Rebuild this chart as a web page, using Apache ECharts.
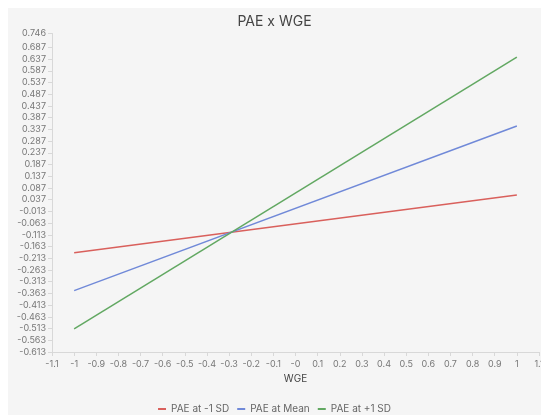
<!DOCTYPE html>
<html>
<head>
<meta charset="utf-8">
<script src="https://cdn.jsdelivr.net/npm/echarts@6/dist/echarts.min.js"></script>
<style>
  html, body { margin: 0; padding: 0; background: #fff; }
  #chart { position: absolute; left: 8px; top: 8px; width: 533px; height: 407px; background: #f5f5f5; }
</style>
</head>
<body>
<div id="chart"></div>
<script>
// 数据
var xValues = [-1, 1];
var seriesNames = ['PAE at -1 SD', 'PAE at Mean', 'PAE at +1 SD'];
var lowSD = [-0.19, 0.057];
var meanSD = [-0.351, 0.351];
var highSD = [-0.514, 0.645];

// 刻度
var xTicks = [-1.1, -1, -0.9, -0.8, -0.7, -0.6, -0.5, -0.4, -0.3, -0.2, -0.1, 0, 0.1, 0.2, 0.3, 0.4, 0.5, 0.6, 0.7, 0.8, 0.9, 1, 1.1];
var xTickLabels = ['-1.1', '-1', '-0.9', '-0.8', '-0.7', '-0.6', '-0.5', '-0.4', '-0.3', '-0.2', '-0.1', '-0', '0.1', '0.2', '0.3', '0.4', '0.5', '0.6', '0.7', '0.8', '0.9', '1', '1.1'];
var yTicks = [-0.613, -0.563, -0.513, -0.463, -0.413, -0.363, -0.313, -0.263, -0.213, -0.163, -0.113, -0.063, -0.013,
  0.037, 0.087, 0.137, 0.187, 0.237, 0.287, 0.337, 0.387, 0.437, 0.487, 0.537, 0.587, 0.637, 0.687, 0.746];

function pairs (vals) {
  return xValues.map(function (x, i) { return [x, vals[i]]; });
}

function getEchartsLine () {
  var myChart = echarts.init(document.getElementById('chart'));
  var labelColor = '#777';
  var axisColor = '#d8d8d8';

  const option = {
    animation: false,
    color: ['#d9605c', '#7089d8', '#62a862'],
    title: {
      text: 'PAE x WGE',
      left: 'center',
      top: 2,
      textStyle: { color: '#444', fontSize: 14, fontWeight: 'normal', fontFamily: 'Inter' }
    },
    legend: {
      bottom: 0,
      left: 'center',
      padding: [5, 5, 1, 5],
      itemWidth: 8,
      itemHeight: 2,
      itemGap: 8,
      icon: 'rect',
      textStyle: { color: '#666', fontSize: 10, fontFamily: 'Inter' },
      data: seriesNames
    },
    grid: {
      left: 44,
      right: 2,
      top: 25.5,
      bottom: 63,
      containLabel: false,
      outerBoundsMode: 'none'
    },
    xAxis: {
      type: 'value',
      min: -1.1,
      max: 1.1,
      name: 'WGE',
      nameLocation: 'middle',
      nameGap: 22,
      nameTextStyle: { color: '#444', fontSize: 10, fontFamily: 'Inter' },
      axisLine: { show: true, onZero: false, lineStyle: { color: axisColor } },
      axisTick: { show: true, length: 4, lineStyle: { color: axisColor }, customValues: xTicks },
      axisLabel: {
        color: labelColor,
        fontSize: 9,
        fontFamily: 'Inter',
        margin: 8,
        customValues: xTicks,
        showMinLabel: true,
        showMaxLabel: true,
        formatter: function (v) {
          var i = xTicks.findIndex(function (t) { return Math.abs(t - v) < 1e-9; });
          return i >= 0 ? xTickLabels[i] : '';
        }
      },
      splitLine: { show: false }
    },
    yAxis: {
      type: 'value',
      min: -0.613,
      max: 0.746,
      name: 'ES',
      nameLocation: 'middle',
      nameGap: 33,
      nameTextStyle: { color: '#444', fontSize: 10, fontFamily: 'Inter' },
      axisLine: { show: true, onZero: false, lineStyle: { color: axisColor } },
      axisTick: { show: true, length: 4, lineStyle: { color: axisColor }, customValues: yTicks },
      axisLabel: {
        color: labelColor,
        fontSize: 9,
        fontFamily: 'Inter',
        margin: 6,
        customValues: yTicks,
        showMinLabel: true,
        showMaxLabel: true,
        formatter: function (v) { return v.toFixed(3); }
      },
      splitLine: { show: false }
    },
    series: [
      { name: seriesNames[0], type: 'line', symbol: 'none', lineStyle: { width: 1.5 }, data: pairs(lowSD) },
      { name: seriesNames[1], type: 'line', symbol: 'none', lineStyle: { width: 1.5 }, data: pairs(meanSD) },
      { name: seriesNames[2], type: 'line', symbol: 'none', lineStyle: { width: 1.5 }, data: pairs(highSD) }
    ]
  };

  myChart.setOption(option);
  window.addEventListener('resize', function () {
    myChart.resize();
  });
}

getEchartsLine();
</script>
</body>
</html>
